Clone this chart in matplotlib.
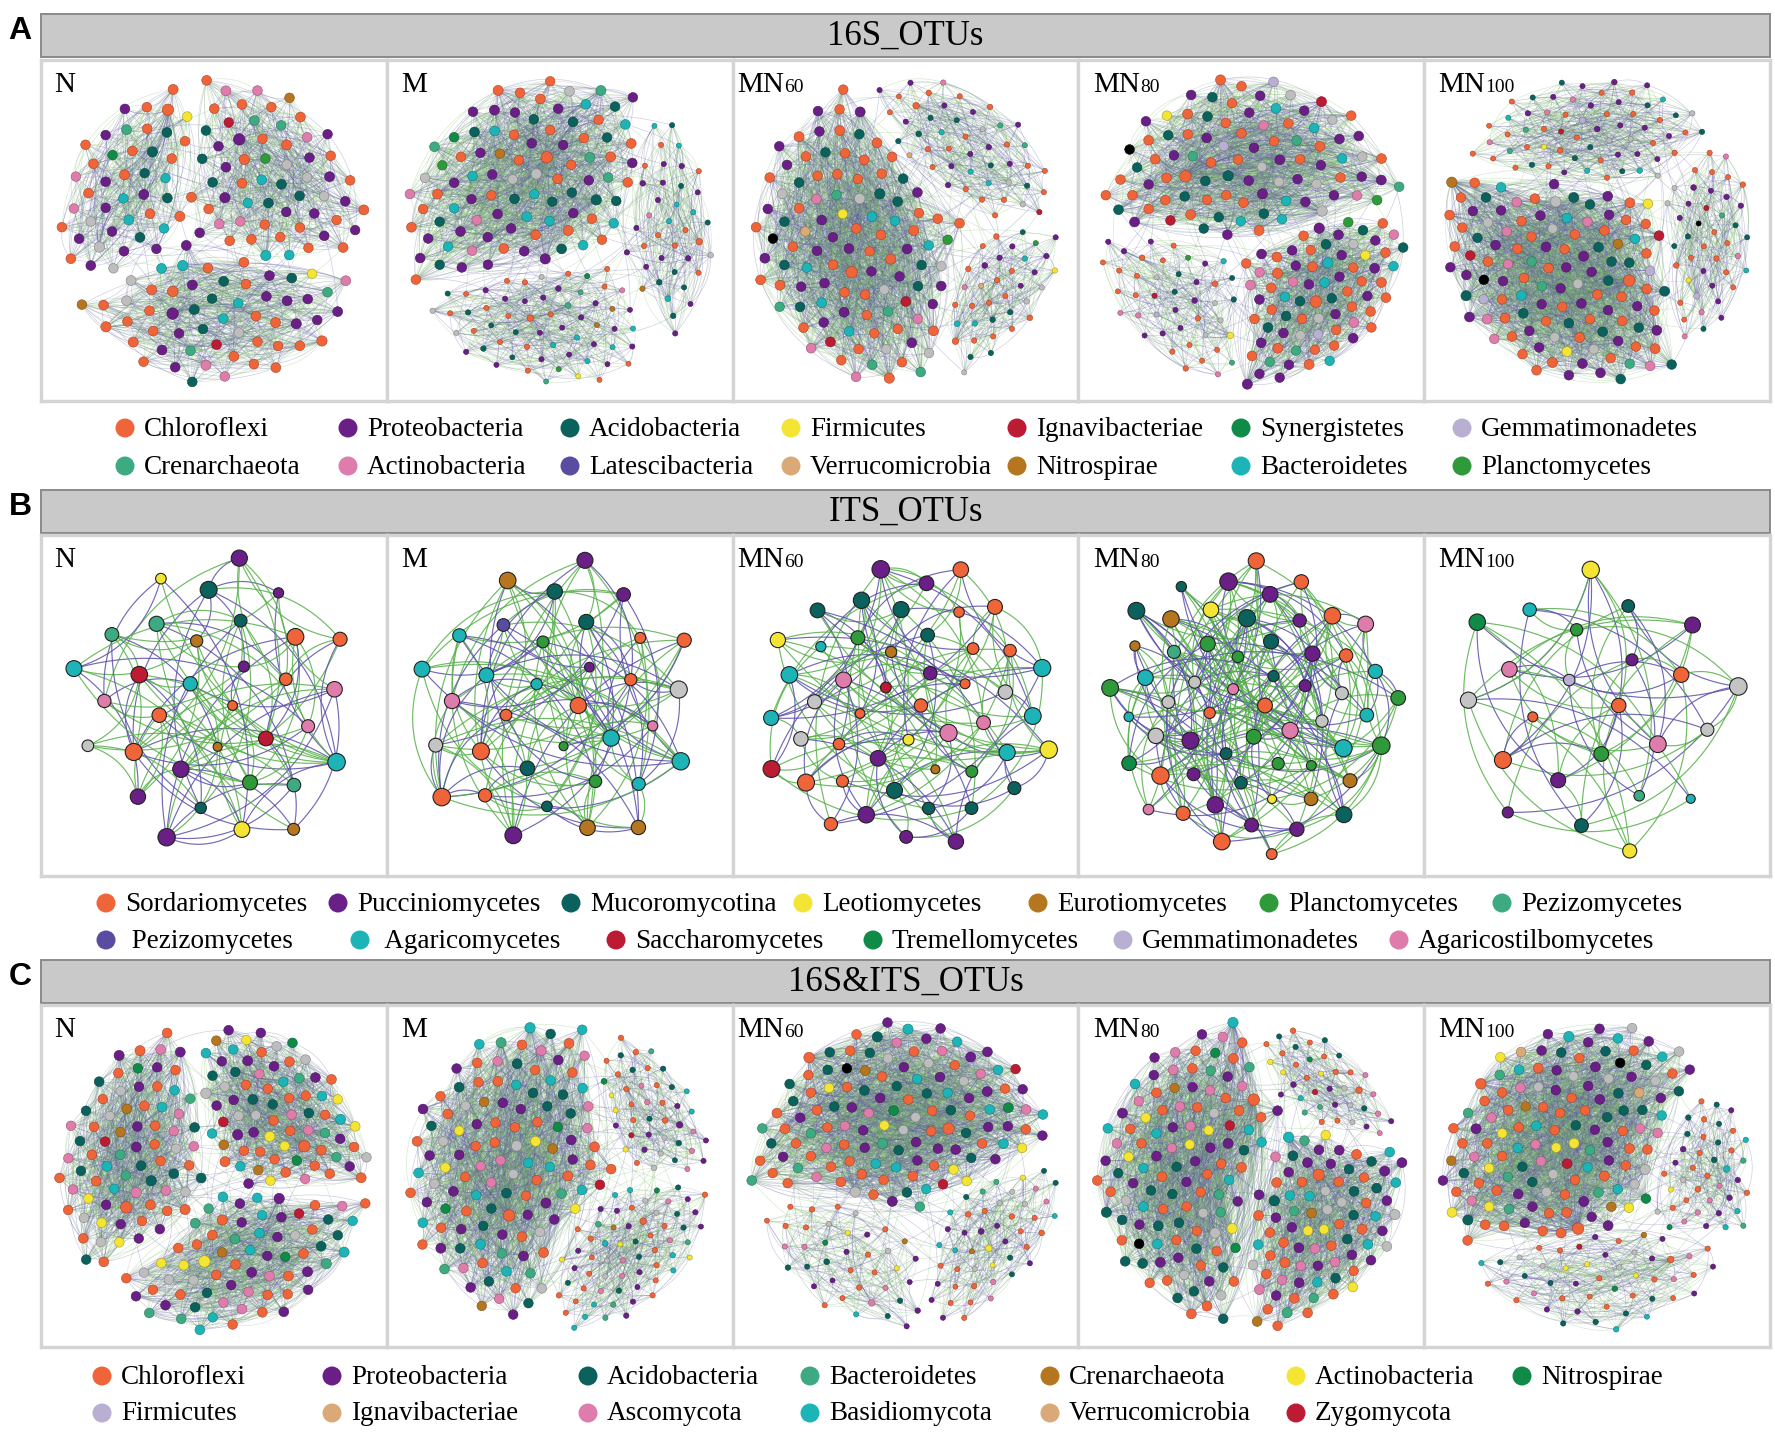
"""
Co-occurrence networks of 16S / ITS / 16S&ITS OTUs under five treatments.
Networks are drawn as modules (regions of a circle) with curved edges.
"""
import numpy as np
import matplotlib
matplotlib.use("Agg")
import matplotlib.pyplot as plt
from matplotlib.collections import LineCollection
from matplotlib.colors import to_rgb, to_rgba

# ==========================================================================
# data
# ==========================================================================
TREATMENTS = ["N", "M", "MN60", "MN80", "MN100"]

# ---- A: 16S_OTUs ----
A_TAXA = ["Chloroflexi", "Proteobacteria", "Acidobacteria", "Firmicutes",
          "Ignavibacteriae", "Synergistetes", "Gemmatimonadetes",
          "Crenarchaeota", "Actinobacteria", "Latescibacteria",
          "Verrucomicrobia", "Nitrospirae", "Bacteroidetes", "Planctomycetes"]
A_COLORS = ["#f0643a", "#6a1f86", "#0b625c", "#f4e433", "#bd1a33", "#0f8a47",
            "#b8afd3", "#3eaa82", "#de7cab", "#5a4ca0", "#dba878", "#b5761f",
            "#1db4b8", "#2f9a3a", "#bdbdbd", "#000000"]  # + others, unassigned
# node counts per taxon (14 taxa + others + unassigned), one row per treatment
A_COUNTS = [
    [58, 36, 17, 2, 2, 1, 0, 5, 10, 0, 0, 2, 12, 1, 9, 0],
    [52, 55, 26, 1, 0, 2, 0, 7, 5, 0, 0, 4, 22, 2, 8, 0],
    [72, 40, 22, 2, 3, 0, 0, 7, 6, 0, 3, 0, 12, 2, 12, 1],
    [72, 52, 22, 3, 3, 0, 4, 6, 10, 0, 0, 0, 12, 3, 14, 1],
    [75, 52, 30, 4, 4, 0, 4, 6, 14, 0, 0, 2, 9, 0, 12, 2],
]
A_MODULE_NODES = [[42, 58, 55], [88, 38, 58], [100, 46, 36], [88, 72, 42], [110, 62, 42]]
A_MODULE_EDGES = [[420, 620, 600], [1300, 260, 420], [1700, 330, 240],
                  [1250, 1000, 260], [2000, 440, 280]]

# ---- B: ITS_OTUs ----
B_TAXA = ["Sordariomycetes", "Pucciniomycetes", "Mucoromycotina", "Leotiomycetes",
          "Eurotiomycetes", "Planctomycetes", "Pezizomycetes",
          " Pezizomycetes", " Agaricomycetes", "Saccharomycetes",
          "Tremellomycetes", "Gemmatimonadetes", "Agaricostilbomycetes"]
B_COLORS = ["#f0643a", "#6a1f86", "#0b625c", "#f4e433", "#b5761f", "#2f9a3a",
            "#3eaa82", "#5a4ca0", "#1db4b8", "#bd1a33", "#0f8a47", "#b8afd3",
            "#de7cab", "#c4c4c4"]
B_COUNTS = [
    [6, 6, 3, 2, 3, 1, 3, 0, 3, 2, 0, 0, 3, 1],
    [8, 4, 4, 0, 3, 3, 0, 1, 7, 0, 0, 0, 2, 2],
    [12, 7, 8, 3, 2, 2, 0, 0, 6, 2, 0, 0, 3, 3],
    [10, 10, 8, 2, 4, 8, 1, 0, 5, 0, 1, 0, 4, 5],
    [4, 4, 2, 2, 0, 2, 1, 0, 2, 0, 1, 1, 2, 3],
]
B_EDGES = [115, 140, 150, 230, 70]

# ---- C: 16S&ITS_OTUs ----
C_TAXA = ["Chloroflexi", "Proteobacteria", "Acidobacteria", "Bacteroidetes",
          "Crenarchaeota", "Actinobacteria", "Nitrospirae", "Firmicutes",
          "Ignavibacteriae", "Ascomycota", "Basidiomycota", "Verrucomicrobia",
          "Zygomycota"]
C_COLORS = ["#f0643a", "#6a1f86", "#0b625c", "#3eaa82", "#b5761f", "#f4e433",
            "#0f8a47", "#b8afd3", "#dba878", "#de7cab", "#1db4b8", "#dba878",
            "#bd1a33", "#bdbdbd", "#000000"]
C_COUNTS = [
    [62, 36, 20, 12, 6, 12, 4, 0, 0, 18, 20, 0, 3, 17, 0],
    [60, 40, 28, 10, 4, 10, 4, 0, 0, 20, 24, 0, 2, 14, 0],
    [62, 42, 26, 8, 3, 10, 3, 0, 0, 16, 16, 0, 2, 13, 1],
    [66, 44, 30, 10, 3, 12, 3, 0, 0, 20, 20, 0, 2, 15, 1],
    [64, 40, 26, 8, 4, 12, 3, 0, 0, 16, 16, 2, 2, 16, 1],
]
C_MODULE_NODES = [[72, 72, 66], [112, 42, 62], [118, 38, 46], [108, 38, 80], [122, 40, 48]]
C_MODULE_EDGES = [[1000, 1000, 900], [1700, 260, 380], [2000, 230, 280],
                  [1700, 230, 1100], [2100, 250, 300]]

# ==========================================================================
# layout / style
# ==========================================================================
W, H, DPI = 1775, 1433, 100
PX = 72.0 / DPI
SERIF = ["Liberation Serif", "DejaVu Serif"]
GOLD = (np.sqrt(5) - 1) / 2
SQ2 = np.sqrt(2) - 1
GOLD_ANGLE = np.pi * (3 - np.sqrt(5))
RMAX = 0.955

BOX_X = [41, 387, 733, 1078, 1424, 1770]
ROWS = {  # header top/bottom, box top/bottom, legend rows (pixels)
    "A": dict(head=(14, 57), box=(60, 401), leg=(428, 466), title="16S_OTUs"),
    "B": dict(head=(490, 533), box=(535, 876), leg=(903, 940), title="ITS_OTUs"),
    "C": dict(head=(960, 1003), box=(1005, 1347), leg=(1376, 1413), title="16S&ITS_OTUs"),
}
LABEL_DX = [13, 14, 4, 15, 14]
R_PX = 162.0

# module seeds in circle units: (cx, cy, rx, ry, angle, big nodes?)
# every point of the circle goes to the module of smallest elliptic distance
A_SHAPES = [
    [(-0.55, 0.30, 0.38, 0.66, -15, 1), (0.36, 0.33, 0.52, 0.64, 0, 1),
     (-0.05, -0.52, 0.80, 0.42, 10, 1)],
    [(-0.17, 0.28, 0.88, 0.58, 15, 1), (0.70, 0.05, 0.33, 0.78, 0, 0),
     (-0.14, -0.60, 0.82, 0.38, 8, 0)],
    [(-0.32, -0.10, 1.05, 0.68, -60, 1), (0.38, 0.54, 0.66, 0.40, -30, 0),
     (0.60, -0.48, 0.56, 0.44, 50, 0)],
    [(-0.05, 0.47, 1.02, 0.55, -12, 1), (0.47, -0.37, 0.62, 0.50, 60, 1),
     (-0.50, -0.50, 0.47, 0.45, 0, 0)],
    [(-0.25, -0.32, 0.78, 0.72, -30, 1), (-0.02, 0.62, 0.82, 0.35, 5, 0),
     (0.73, -0.10, 0.32, 0.72, 0, 0)],
]
C_SHAPES = [
    [(0.42, 0.45, 0.60, 0.56, -20, 1), (-0.50, 0.15, 0.48, 0.76, -15, 1),
     (0.18, -0.56, 0.82, 0.43, 15, 1)],
    [(-0.30, 0.05, 0.68, 1.00, -15, 1), (0.56, 0.50, 0.40, 0.50, 0, 0),
     (0.40, -0.50, 0.56, 0.50, 0, 0)],
    [(0.00, 0.40, 1.02, 0.63, -5, 1), (-0.40, -0.56, 0.52, 0.40, -30, 0),
     (0.56, -0.40, 0.40, 0.63, -20, 0)],
    [(-0.45, 0.05, 0.60, 0.98, -10, 1), (0.50, 0.62, 0.48, 0.32, -30, 0),
     (0.46, -0.36, 0.56, 0.66, 30, 1)],
    [(-0.25, 0.36, 0.82, 0.66, -20, 1), (0.66, 0.00, 0.35, 0.46, 0, 0),
     (0.05, -0.66, 0.86, 0.30, 10, 0)],
]
A_LEG_X = [[125, 348, 570, 791, 1017, 1241, 1462], [125, 348, 570, 791, 1017, 1241, 1462]]
B_LEG_X = [[106, 338, 571, 803, 1038, 1269, 1502], [106, 360, 616, 873, 1123, 1399]]
C_LEG_X = [[102, 332, 588, 810, 1050, 1296, 1522], [102, 332, 588, 810, 1050, 1296]]


def frac(a):
    return np.mod(a, 1.0)


def ell_norm(P, shape):
    cx, cy, rx, ry, ang = shape[:5]
    a = np.radians(ang)
    dx, dy = P[:, 0] - cx, P[:, 1] - cy
    u = dx * np.cos(a) + dy * np.sin(a)
    v = -dx * np.sin(a) + dy * np.cos(a)
    return np.sqrt((u / rx) ** 2 + (v / ry) ** 2)


def disc_points(N, radius, phase=0.0):
    k = np.arange(N)
    r = radius * np.sqrt((k + 0.5) / N)
    t = k * GOLD_ANGLE + phase
    return np.column_stack([r * np.cos(t), r * np.sin(t)])


def module_points(n, shapes, m, gap=0.13):
    def keep(P):
        e = np.stack([ell_norm(P, s) for s in shapes])
        others = np.delete(e, m, axis=0).min(axis=0)
        return P[e[m] * (1 + gap) < others]
    N = n
    while True:
        P = keep(disc_points(N, RMAX, phase=0.9 * m))
        if len(P) >= n or N > 20 * n:
            return P[:n]
        N += max(1, (n - len(P)) // 2)


def pair_sequence(n, m_edges, off, hub=1.6):
    m = np.arange(m_edges)
    a = frac(m * GOLD + off)
    b = frac(m * SQ2 + 0.37 + off * 0.5)
    hub_perm = np.argsort(frac(np.arange(n) * 0.5698 + off))
    i = hub_perm[np.minimum((a ** hub * n).astype(int), n - 1)]
    j = np.minimum((b * n).astype(int), n - 1)
    keep = i != j
    return i[keep], j[keep]


def arcs(P0, P1, bend=0.22, nseg=16):
    d = P1 - P0
    perp = np.column_stack([-d[:, 1], d[:, 0]])
    C = (P0 + P1) / 2.0 + bend * perp
    t = np.linspace(0, 1, nseg)[None, :, None]
    return ((1 - t) ** 2 * P0[:, None, :] + 2 * (1 - t) * t * C[:, None, :]
            + t ** 2 * P1[:, None, :])


def node_colors(counts, palette):
    cats = np.repeat(np.arange(len(counts)), counts)
    n = len(cats)
    rank = np.argsort(np.argsort(frac(np.arange(n) * 0.7548777 + 0.113)))
    return [palette[c] for c in cats[rank]]


def edge_colors(m, p_purple, purple, green, alpha):
    sel = frac(np.arange(m) * 0.381966 + 0.2) < p_purple
    cp, cg = to_rgba(purple, alpha), to_rgba(green, alpha)
    return [cp if s else cg for s in sel]


def darker(c, f=0.68):
    return tuple(np.array(to_rgb(c)) * f)


def box_axes(fig, col, top, bottom):
    x0, x1 = BOX_X[col], BOX_X[col + 1]
    ax = fig.add_axes([x0 / W, 1 - bottom / H, (x1 - x0) / W, (bottom - top) / H])
    w, h = x1 - x0, bottom - top
    ax.set_xlim(-w / 2 / R_PX, w / 2 / R_PX)
    ax.set_ylim(-h / 2 / R_PX, h / 2 / R_PX)
    ax.set_xticks([])
    ax.set_yticks([])
    for sp in ax.spines.values():
        sp.set_color("#d4d4d4")
        sp.set_linewidth(2.4)
    return ax


def panel_label(ax, name, dx):
    base = name[:2] if name.startswith("MN") else name
    ax.annotate(base, xy=(0, 1), xycoords="axes fraction",
                xytext=(dx * PX, -32 * PX), textcoords="offset points",
                fontsize=21, family=SERIF, ha="left", va="baseline", zorder=5)
    if name.startswith("MN"):
        wdt = 1.611 * 21  # width of "MN" in points
        ax.annotate(name[2:], xy=(0, 1), xycoords="axes fraction",
                    xytext=(dx * PX + wdt, -32 * PX), textcoords="offset points",
                    fontsize=14, family=SERIF, ha="left", va="baseline", zorder=5)


def draw_modular(ax, shapes, nodes, edges, counts, palette):
    cols = node_colors(counts, palette)
    P_all, S_all, segs = [], [], []
    for mi, (shape, n, ne) in enumerate(zip(shapes, nodes, edges)):
        P = module_points(n, shapes, mi)
        n = len(P)
        i, j = pair_sequence(n, ne, 0.137 * mi + 0.05)
        segs.append(arcs(P[i], P[j]))
        deg = np.bincount(np.concatenate([i, j]), minlength=n).astype(float)
        dn = (deg - deg.min()) / max(deg.max() - deg.min(), 1)
        diam = (9.5 + 2.0 * dn) if shape[5] else (5.0 + 1.5 * dn)
        P_all.append(P)
        S_all.append((diam * PX) ** 2)
    sizes = [len(p) for p in P_all]
    P = np.vstack(P_all)
    S = np.concatenate(S_all)
    # a few links between modules
    gi, gj = pair_sequence(len(P), 160, 0.71, hub=1.0)
    mod = np.repeat(np.arange(len(sizes)), sizes)
    cross = mod[gi] != mod[gj]
    segs.append(arcs(P[gi[cross]][:50], P[gj[cross]][:50]))
    segs = np.concatenate(segs)
    lc = LineCollection(segs, colors=edge_colors(len(segs), 0.5, "#5d56a0", "#78ba62", 0.32),
                        linewidths=0.45, zorder=1)
    ax.add_collection(lc)
    c = cols[:len(P)]
    ax.scatter(P[:, 0], P[:, 1], s=S, c=c, edgecolors=[darker(x) for x in c],
               linewidths=0.4, zorder=3)


def draw_sparse(ax, n_edges, counts, palette):
    cols = node_colors(counts, palette)
    n = len(cols)
    P = disc_points(n, 0.93)
    i, j = pair_sequence(n, n_edges, 0.23, hub=1.4)
    segs = arcs(P[i], P[j], bend=0.28, nseg=24)
    lc = LineCollection(segs, colors=edge_colors(len(segs), 0.4, "#5a50a8", "#55b048", 0.85),
                        linewidths=0.85, zorder=1)
    ax.add_collection(lc)
    deg = np.bincount(np.concatenate([i, j]), minlength=n).astype(float)
    rank = np.argsort(np.argsort(deg + 0.001 * np.arange(n)))
    diam = 9.0 + 8.5 * (rank / max(n - 1, 1)) ** 0.7
    ax.scatter(P[:, 0], P[:, 1], s=(diam * PX) ** 2, c=cols,
               edgecolors="#222222", linewidths=0.8, zorder=3)


def legend_row(lax, names, colors, xs, y):
    for name, col, x in zip(names, colors, xs):
        lax.scatter([x], [y], s=(19 * PX) ** 2, c=[col], edgecolors="none")
        lax.text(x + 19, y + 1, name, fontsize=19.5, family=SERIF,
                 ha="left", va="center")


# ==========================================================================
# figure
# ==========================================================================
def main():
    fig = plt.figure(figsize=(W / DPI, H / DPI), dpi=DPI)
    fig.patch.set_facecolor("white")
    lax = fig.add_axes([0, 0, 1, 1])
    lax.set_xlim(0, W)
    lax.set_ylim(H, 0)
    lax.axis("off")

    legends = {
        "A": (A_TAXA, A_COLORS, A_LEG_X),
        "B": (B_TAXA, B_COLORS, B_LEG_X),
        "C": (C_TAXA, C_COLORS, C_LEG_X),
    }

    for key, row in ROWS.items():
        h0, h1 = row["head"]
        lax.add_patch(plt.Rectangle((BOX_X[0], h0), BOX_X[-1] - BOX_X[0], h1 - h0,
                                    facecolor="#c9c9c9", edgecolor="#8a8a8a", lw=1.4))
        lax.text((BOX_X[0] + BOX_X[-1]) / 2, (h0 + h1) / 2 + 1, row["title"],
                 fontsize=25, family=SERIF, ha="center", va="center")
        lax.text(20, (h0 + h1) / 2 - 5, key, fontsize=23, fontweight="bold",
                 family=["Liberation Sans", "DejaVu Sans"], ha="center", va="center")
        names, colors, xs = legends[key]
        n1 = len(xs[0])
        legend_row(lax, names[:n1], colors[:n1], xs[0], row["leg"][0])
        legend_row(lax, names[n1:], colors[n1:len(names)], xs[1], row["leg"][1])

    for c, name in enumerate(TREATMENTS):
        t, b = ROWS["A"]["box"]
        ax = box_axes(fig, c, t, b)
        draw_modular(ax, A_SHAPES[c], A_MODULE_NODES[c], A_MODULE_EDGES[c],
                     A_COUNTS[c], A_COLORS)
        panel_label(ax, name, LABEL_DX[c])

        t, b = ROWS["B"]["box"]
        ax = box_axes(fig, c, t, b)
        draw_sparse(ax, B_EDGES[c], B_COUNTS[c], B_COLORS)
        panel_label(ax, name, LABEL_DX[c])

        t, b = ROWS["C"]["box"]
        ax = box_axes(fig, c, t, b)
        draw_modular(ax, C_SHAPES[c], C_MODULE_NODES[c], C_MODULE_EDGES[c],
                     C_COUNTS[c], C_COLORS)
        panel_label(ax, name, LABEL_DX[c])

    fig.savefig("out.png", dpi=DPI)
    plt.close(fig)


if __name__ == "__main__":
    main()
